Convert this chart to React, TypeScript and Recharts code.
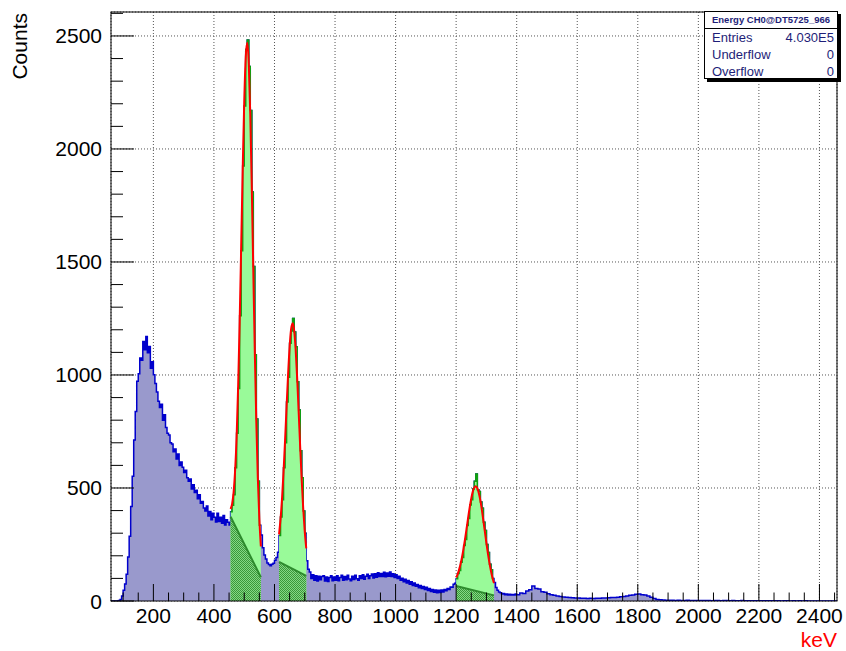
import React from 'react';
import { ComposedChart, Area, Line, XAxis, YAxis, CartesianGrid } from 'recharts';

// Energy spectrum, counts per bin (5 keV bins up to 1400 keV, 10 keV after)
const comptonLow = [
  0, 0, 0, 0, 0, 2, 7, 22, 48, 75,
  118, 195, 286, 418, 552, 712, 838, 972, 1006, 1075,
  1065, 1148, 1112, 1170, 1098, 1126, 1030, 1058, 1001, 962,
  925, 884, 856, 870, 800, 824, 768, 742, 734, 700,
  695, 660, 672, 628, 650, 600, 615, 592, 568, 578,
  545, 530, 540, 496, 514, 480, 490, 452, 470, 432,
  440, 412, 398, 420, 376, 396, 360, 388, 370, 350,
  388, 352, 370, 344, 378, 336, 360, 348, 336,
];
const peak511Counts = [
  395, 424, 470, 590, 742, 940, 1262, 1550, 1925, 2190,
  2440, 2482, 2365, 2170, 1810, 1480, 1090, 805, 530, 335,
];
const valley = [292, 236, 204, 186, 168, 162, 156, 163, 167, 180, 193, 216];
const peak662Counts = [
  290, 372, 448, 590, 700, 880, 990, 1140, 1195, 1250,
  1190, 1125, 970, 845, 665, 545, 398, 300,
];
const continuum = [
  178, 140, 128, 100, 116, 92, 112, 88, 110, 94,
  108, 112, 88, 106, 86, 104, 112, 90, 106, 92,
  112, 90, 104, 114, 92, 108, 94, 114, 97, 90,
  110, 95, 114, 98, 92, 112, 100, 116, 96, 110,
  118, 100, 112, 120, 102, 121, 105, 125, 108, 122,
  108, 127, 107, 124, 110, 128, 108, 121, 104, 116,
  100, 110, 92, 101, 85, 96, 80, 91, 74, 85,
  69, 80, 65, 73, 59, 69, 55, 64, 51, 61,
  47, 55, 42, 51, 39, 49, 37, 48, 38, 49,
  40, 51, 45, 55, 51, 62, 61, 74, 78,
];
const peak1275Counts = [
  98, 122, 135, 172, 192, 246, 272, 334, 365, 425,
  448, 495, 530, 562, 492, 485, 438, 410, 348, 312,
  250, 215, 163, 138, 100,
];
const tail = [82, 60, 48, 40, 36, 31, 33, 28, 31, 27, 30, 26, 29, 27, 31];
const highTail = [
  28, 35, 33, 44, 50, 66, 55, 53, 41, 39,
  32, 28, 25, 22, 20, 18, 17, 15, 14, 13,
  13, 12, 12, 11, 12, 11, 12, 12, 13, 13,
  14, 15, 16, 17, 19, 20, 22, 25, 27, 30,
  31, 28, 26, 22, 17, 11, 7, 5, 4, 3,
  3, 3, 2, 3, 2, 2, 3, 2, 2, 2,
  2, 2, 2, 2, 1, 2, 2, 1, 2, 2,
  1, 2, 1, 1, 2, 1, 1, 1, 1, 1,
  1, 1, 1, 1, 1, 1, 1, 0, 1, 1,
  0, 1, 0, 1, 0, 1, 0, 0, 0, 0,
  0, 0, 0, 0, 0, 0,
];

// gaus + pol1 fits, sampled every 5 keV over each fit range
const fit511 = [407, 430, 482, 578, 730, 951, 1236, 1569, 1908, 2206, 2407, 2470, 2380, 2153, 1828, 1462, 1102, 790, 543, 363, 241];
const fit662 = [295, 363, 455, 574, 712, 861, 1004, 1125, 1204, 1229, 1197, 1111, 984, 833, 678, 532, 407, 307, 233];
const fit1275 = [104, 118, 140, 166, 198, 237, 279, 325, 372, 416, 454, 484, 502, 508, 499, 477, 445, 403, 355, 306, 256, 210, 169, 133, 103, 79];

// linear background under each fit: [keV, counts] at both ends
const bg511 = [[455, 373], [555, 105]];
const bg662 = [[615, 173], [705, 111]];
const bg1275 = [[1200, 66], [1325, 25]];

const fitRanges = [[455, 555], [615, 705], [1200, 1325]];

const xMajor = [200, 400, 600, 800, 1000, 1200, 1400, 1600, 1800, 2000, 2200, 2400];
const yMajor = [500, 1000, 1500, 2000, 2500];
const xTicks = Array.from({ length: 48 }, (_, i) => 100 + i * 50);
const yTicks = Array.from({ length: 27 }, (_, i) => i * 100);

const stats = [
  ['Entries', '4.030E5'],
  ['Underflow', '0'],
  ['Overflow', '0'],
];

const X_DOMAIN = [60, 2458];
const Y_DOMAIN = [0, 2606];
const FONT = '"Liberation Sans", Arial, Helvetica, sans-serif';
const PLOT = { left: 111, top: 12, right: 837, bottom: 601 };

const seg = (start: number, step: number, vals: number[]) =>
  vals.map((y, i) => ({ x: start + i * step, y }));

const hist = [
  ...seg(60, 5, comptonLow),
  ...seg(455, 5, peak511Counts),
  ...seg(555, 5, valley),
  ...seg(615, 5, peak662Counts),
  ...seg(705, 5, continuum),
  ...seg(1200, 5, peak1275Counts),
  ...seg(1325, 5, tail),
  ...seg(1400, 10, highTail),
  { x: 2460, y: 0 },
];

const inRange = (lo: number, hi: number) => {
  const pts = hist.filter(p => p.x >= lo && p.x < hi);
  return [...pts, { x: hi, y: pts[pts.length - 1].y }];
};

const fits = [seg(455, 5, fit511), seg(615, 5, fit662), seg(1200, 5, fit1275)];
const bgs = [bg511, bg662, bg1275].map(b => b.map(([x, y]) => ({ x, y })));

const XTick = ({ x, payload }: any) => {
  const v = payload.value;
  const major = v % 200 === 0;
  return (
    <g>
      <line x1={x} x2={x} y1={PLOT.bottom} y2={PLOT.bottom - (major ? 17 : 8.5)} stroke="#000" strokeWidth={1} />
      {major && (
        <text x={x} y={623} textAnchor="middle" fontSize={21} fontFamily={FONT} fill="#000">{v}</text>
      )}
    </g>
  );
};

const YTick = ({ y, payload }: any) => {
  const v = payload.value;
  const major = v % 500 === 0;
  return (
    <g>
      <line x1={PLOT.left} x2={PLOT.left + (major ? 23 : 12)} y1={y} y2={y} stroke="#000" strokeWidth={1} />
      {major && (
        <text x={102} y={y + 7.5} textAnchor="end" fontSize={21} fontFamily={FONT} fill="#000">{v}</text>
      )}
    </g>
  );
};

export default function App() {
  return (
    <div style={{ position: 'absolute', left: 0, top: 0, width: 846, height: 651, background: '#fff' }}>
      <ComposedChart
        width={846}
        height={651}
        margin={{ top: 12, right: 9, bottom: 20, left: 51 }}
      >
        <defs>
          <pattern id="hatch" width="2" height="2" patternUnits="userSpaceOnUse">
            <rect width="2" height="2" fill="#85d885" />
            <rect width="1" height="1" fill="#3a973a" />
            <rect x="1" y="1" width="1" height="1" fill="#3a973a" />
          </pattern>
        </defs>
        <XAxis xAxisId="grid" type="number" dataKey="x" domain={X_DOMAIN} ticks={xMajor} allowDataOverflow hide />
        <YAxis yAxisId="grid" type="number" domain={Y_DOMAIN} ticks={yMajor} allowDataOverflow hide />
        <CartesianGrid xAxisId="grid" yAxisId="grid" stroke="#555" strokeDasharray="1 2" />
        <XAxis
          type="number"
          dataKey="x"
          domain={X_DOMAIN}
          ticks={xTicks}
          interval={0}
          allowDataOverflow
          axisLine={false}
          tickLine={false}
          height={30}
          tick={(p: any) => <XTick {...p} />}
        />
        <YAxis
          type="number"
          domain={Y_DOMAIN}
          ticks={yTicks}
          interval={0}
          allowDataOverflow
          axisLine={false}
          tickLine={false}
          width={60}
          tick={(p: any) => <YTick {...p} />}
        />
        <Area
          data={hist}
          dataKey="y"
          type="stepAfter"
          stroke="#0000cc"
          strokeWidth={1.5}
          fill="#9999cc"
          fillOpacity={1}
          dot={false}
          activeDot={false}
          isAnimationActive={false}
        />
        {fitRanges.map(([lo, hi]) => (
          <Area
            key={`g${lo}`}
            data={inRange(lo, hi)}
            dataKey="y"
            type="stepAfter"
            stroke="#10a010"
            strokeWidth={1.5}
            fill="#99fa99"
            fillOpacity={1}
            dot={false}
            activeDot={false}
            isAnimationActive={false}
          />
        ))}
        {bgs.map((b, i) => (
          <Area
            key={`b${i}`}
            data={b}
            dataKey="y"
            type="linear"
            stroke="#2e8b2e"
            strokeWidth={2}
            fill="url(#hatch)"
            fillOpacity={1}
            dot={false}
            activeDot={false}
            isAnimationActive={false}
          />
        ))}
        {fits.map((f, i) => (
          <Line
            key={`f${i}`}
            data={f}
            dataKey="y"
            type="monotone"
            stroke="#ff0000"
            strokeWidth={2}
            dot={false}
            activeDot={false}
            isAnimationActive={false}
          />
        ))}
      </ComposedChart>

      <svg width={846} height={651} style={{ position: 'absolute', left: 0, top: 0, pointerEvents: 'none' }}>
        <rect
          x={PLOT.left}
          y={PLOT.top}
          width={PLOT.right - PLOT.left}
          height={PLOT.bottom - PLOT.top}
          fill="none"
          stroke="#000"
          strokeWidth={1}
        />
        <text x={27} y={13} transform="rotate(-90, 27, 13)" textAnchor="end" fontSize={21} fontFamily={FONT} fill="#000">
          Counts
        </text>
        <text x={837} y={647} textAnchor="end" fontSize={21} fontFamily={FONT} fill="#ff0000">
          keV
        </text>
      </svg>

      <div
        style={{
          position: 'absolute',
          left: 704,
          top: 11,
          width: 134,
          height: 68,
          boxSizing: 'border-box',
          border: '1px solid #000',
          boxShadow: '3px 3px 0 #000',
          background: '#fff',
          fontFamily: FONT,
          color: '#1e1e78',
        }}
      >
        <div
          style={{
            height: 16,
            borderBottom: '1px solid #000',
            textAlign: 'center',
            fontWeight: 'bold',
            fontSize: 9.5,
            lineHeight: '16px',
          }}
        >
          Energy CH0@DT5725_966
        </div>
        {stats.map(([k, v]) => (
          <div
            key={k}
            style={{
              display: 'flex',
              justifyContent: 'space-between',
              padding: '0 3px 0 7px',
              fontSize: 13,
              height: 17,
              lineHeight: '17px',
            }}
          >
            <span>{k}</span>
            <span>{v}</span>
          </div>
        ))}
      </div>
    </div>
  );
}
